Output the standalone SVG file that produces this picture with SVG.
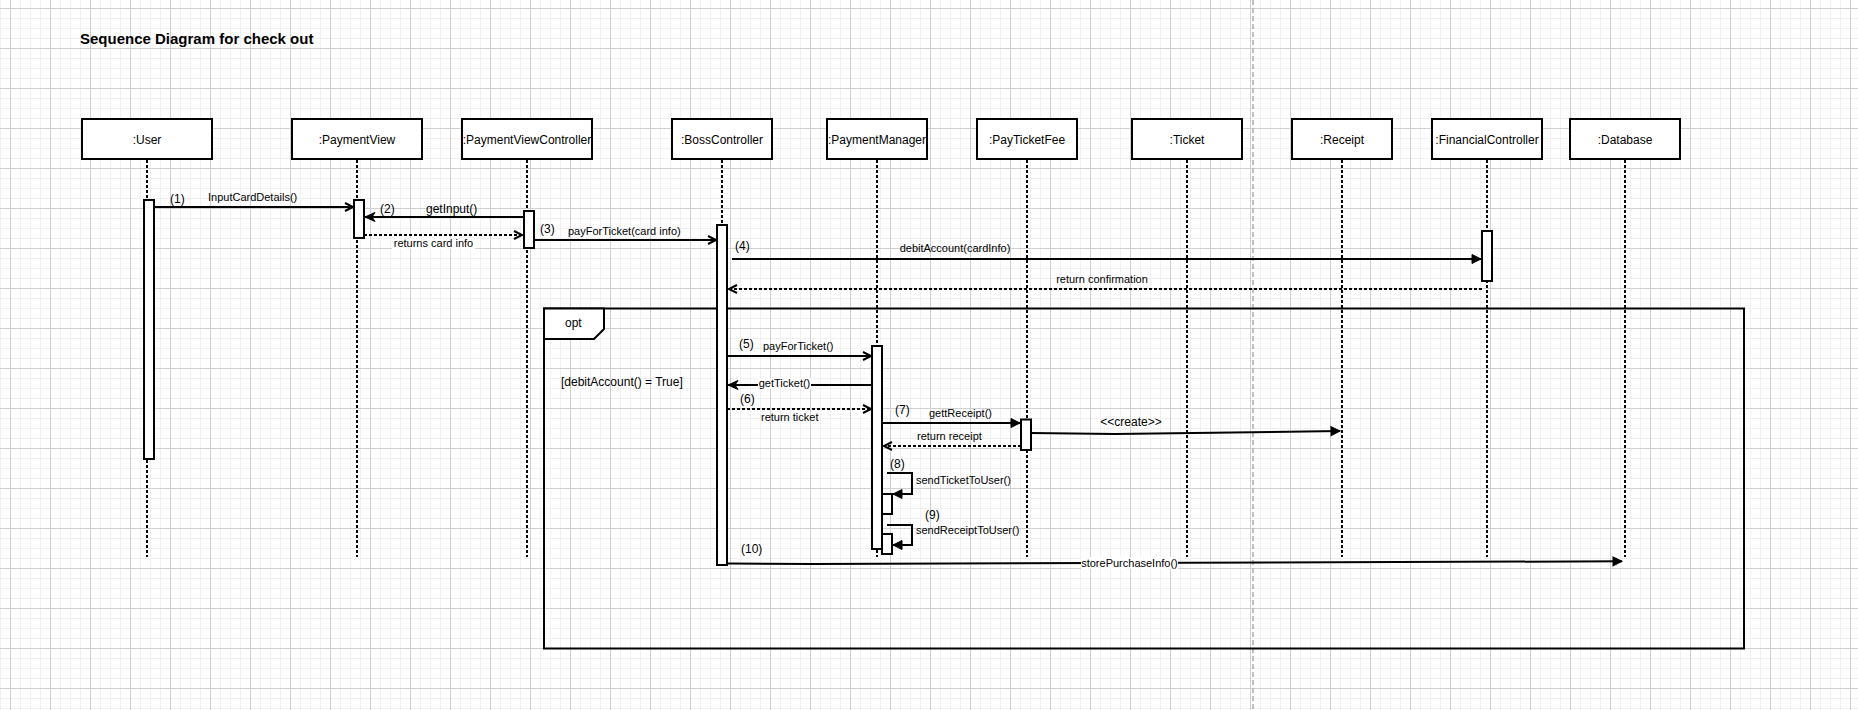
<svg xmlns="http://www.w3.org/2000/svg" width="1858" height="710" viewBox="0 0 1858 710">
<style>
text{font-family:"Liberation Sans",Arial,Helvetica,sans-serif;fill:#000}
.t12{font-size:12px}
.t11{font-size:11px}
.mid{text-anchor:middle}
.box{fill:#fff;stroke:#000;stroke-width:2}
.act{fill:#fff;stroke:#000;stroke-width:2}
.life{stroke:#000;stroke-width:2;stroke-dasharray:3 2;fill:none}
.msg{stroke:#000;stroke-width:2;fill:none}
.ret{stroke:#000;stroke-width:2;fill:none;stroke-dasharray:3 2}
.bg{fill:#fff}
</style>
<defs>
<pattern id="grid" x="10" y="8" width="40" height="40" patternUnits="userSpaceOnUse">
<rect width="40" height="40" fill="#fff"/>
<path d="M10.5 0V40M20.5 0V40M30.5 0V40M0 10.5H40M0 20.5H40M0 30.5H40" stroke="#f0f0f0" stroke-width="1"/>
<path d="M0.5 0V40M0 0.5H40" stroke="#d0d0d0" stroke-width="1"/>
</pattern>
<marker id="open" markerUnits="userSpaceOnUse" markerWidth="12" markerHeight="12" refX="8" refY="4" orient="auto" overflow="visible">
<path d="M0,0 L8,4 L0,8" fill="none" stroke="#000" stroke-width="2"/>
</marker>
<marker id="classic" markerUnits="userSpaceOnUse" markerWidth="12" markerHeight="12" refX="10" refY="4.5" orient="auto" overflow="visible">
<path d="M0,0 L10,4.5 L0,9 L3,4.5 Z" fill="#000" stroke="#000" stroke-width="1"/>
</marker>
<marker id="block" markerUnits="userSpaceOnUse" markerWidth="12" markerHeight="12" refX="9" refY="4.5" orient="auto" overflow="visible">
<path d="M0,0 L9,4.5 L0,9 Z" fill="#000" stroke="#000" stroke-width="1"/>
</marker>
</defs>
<rect x="0" y="0" width="1858" height="710" fill="url(#grid)"/>
<line x1="1253" y1="0" x2="1253" y2="710" stroke="#c0c0c0" stroke-width="2" stroke-dasharray="5 3"/>
<text x="80" y="44" style="font-size:15px;font-weight:bold">Sequence Diagram for check out</text>

<g id="opt-frame">
<rect x="544" y="308.5" width="1200" height="340" fill="none" stroke="#000" stroke-width="2"/>
<path d="M544,308.5 H604 V329 L594,339 H544 Z" fill="#fff" stroke="#000" stroke-width="2"/>
<text x="565" y="327" class="t12">opt</text>
<text x="561" y="386" class="t12">[debitAccount() = True]</text>
</g>

<g id="lifelines">
<line class="life" x1="147" y1="160" x2="147" y2="557"/>
<line class="life" x1="357" y1="160" x2="357" y2="557"/>
<line class="life" x1="527" y1="160" x2="527" y2="557"/>
<line class="life" x1="722" y1="160" x2="722" y2="557"/>
<line class="life" x1="877" y1="160" x2="877" y2="557"/>
<line class="life" x1="1027" y1="160" x2="1027" y2="557"/>
<line class="life" x1="1187" y1="160" x2="1187" y2="557"/>
<line class="life" x1="1342" y1="160" x2="1342" y2="557"/>
<line class="life" x1="1487" y1="160" x2="1487" y2="557"/>
<line class="life" x1="1625" y1="160" x2="1625" y2="557"/>
</g>

<g id="user"><rect class="box" x="82" y="119" width="130" height="40"/><text x="147" y="143.5" class="t12 mid">:User</text><rect class="act" x="144" y="200" width="10" height="259"/></g>
<g id="paymentview"><rect class="box" x="292" y="119" width="130" height="40"/><text x="357" y="143.5" class="t12 mid">:PaymentView</text><rect class="act" x="354" y="200" width="10" height="38"/></g>
<g id="paymentviewcontroller"><rect class="box" x="462" y="119" width="130" height="40"/><text x="527" y="143.5" class="t12 mid">:PaymentViewController</text><rect class="act" x="524" y="211" width="10" height="37"/></g>
<g id="bosscontroller"><rect class="box" x="672" y="119" width="100" height="40"/><text x="722" y="143.5" class="t12 mid">:BossController</text><rect class="act" x="717" y="225" width="10" height="340"/></g>
<g id="paymentmanager"><rect class="box" x="827" y="119" width="100" height="40"/><text x="877" y="143.5" class="t12 mid">:PaymentManager</text><rect class="act" x="872" y="346" width="10" height="203"/><rect class="act" x="882" y="494" width="10" height="20"/><rect class="act" x="882" y="534" width="10" height="20"/></g>
<g id="payticketfee"><rect class="box" x="977" y="119" width="100" height="40"/><text x="1027" y="143.5" class="t12 mid">:PayTicketFee</text><rect class="act" x="1021" y="419.5" width="10" height="30.5"/></g>
<g id="ticket"><rect class="box" x="1132" y="119" width="110" height="40"/><text x="1187" y="143.5" class="t12 mid">:Ticket</text></g>
<g id="receipt"><rect class="box" x="1292" y="119" width="100" height="40"/><text x="1342" y="143.5" class="t12 mid">:Receipt</text></g>
<g id="financialcontroller"><rect class="box" x="1432" y="119" width="110" height="40"/><text x="1487" y="143.5" class="t12 mid">:FinancialController</text><rect class="act" x="1482" y="231" width="10" height="50"/></g>
<g id="database"><rect class="box" x="1570" y="119" width="110" height="40"/><text x="1625" y="143.5" class="t12 mid">:Database</text></g>

<g id="connectors">
<path class="msg" d="M154,207 H353" marker-end="url(#open)"/>
<text x="170" y="203" class="t12">(1)</text>
<text x="208" y="201" class="t11">InputCardDetails()</text>

<path class="msg" d="M524,217 H365" marker-end="url(#classic)"/>
<text x="380" y="213" class="t12">(2)</text>
<text x="426" y="213" class="t12">getInput()</text>

<path class="ret" d="M364,235 H522" marker-end="url(#open)"/>
<rect class="bg" x="392" y="238" width="83" height="11"/>
<text x="433.5" y="247" class="t11 mid">returns card info</text>

<path class="msg" d="M534,240 H716" marker-end="url(#open)"/>
<text x="540" y="233" class="t12">(3)</text>
<text x="568" y="235" class="t11">payForTicket(card info)</text>

<path class="msg" d="M732,259 H1481" marker-end="url(#block)"/>
<text x="735" y="250" class="t12">(4)</text>
<text x="955" y="252" class="t11 mid">debitAccount(cardInfo)</text>

<path class="ret" d="M1482,289 H729" marker-end="url(#open)"/>
<text x="1102" y="283" class="t11 mid">return confirmation</text>

<path class="msg" d="M727,356 H871" marker-end="url(#open)"/>
<text x="739" y="348" class="t12">(5)</text>
<text x="763" y="350" class="t11">payForTicket()</text>

<path class="msg" d="M872,385 H728" marker-end="url(#classic)"/>
<rect class="bg" x="758" y="378" width="53" height="11"/>
<text x="784.5" y="386.5" class="t11 mid">getTicket()</text>

<path class="ret" d="M727,409 H871" marker-end="url(#open)"/>
<text x="740" y="403" class="t12">(6)</text>
<text x="761" y="421" class="t11">return ticket</text>

<path class="msg" d="M882,423 H1020" marker-end="url(#block)"/>
<text x="895" y="414" class="t12">(7)</text>
<text x="929" y="417" class="t11">gettReceipt()</text>

<path class="ret" d="M1021,446 H884" marker-end="url(#open)"/>
<text x="917" y="439.5" class="t11">return receipt</text>

<path class="msg" d="M1031,433 L1115,434 L1340,431" marker-end="url(#block)"/>
<text x="1131" y="426" class="t12 mid">&lt;&lt;create&gt;&gt;</text>

<path class="msg" d="M887,473 H912 V494 H893" marker-end="url(#block)"/>
<text x="890" y="468" class="t12">(8)</text>
<text x="916" y="483.5" class="t11">sendTicketToUser()</text>

<path class="msg" d="M887,525 H912 V545 H893" marker-end="url(#block)"/>
<text x="925" y="518.5" class="t12">(9)</text>
<text x="916" y="534" class="t11">sendReceiptToUser()</text>

<path class="msg" d="M728,563.5 L812,564 L1622,561.3" marker-end="url(#block)"/>
<text x="741" y="553" class="t12">(10)</text>
<rect class="bg" x="1081" y="557" width="97" height="12"/>
<text x="1129.5" y="566.5" class="t11 mid">storePurchaseInfo()</text>
</g>
</svg>
